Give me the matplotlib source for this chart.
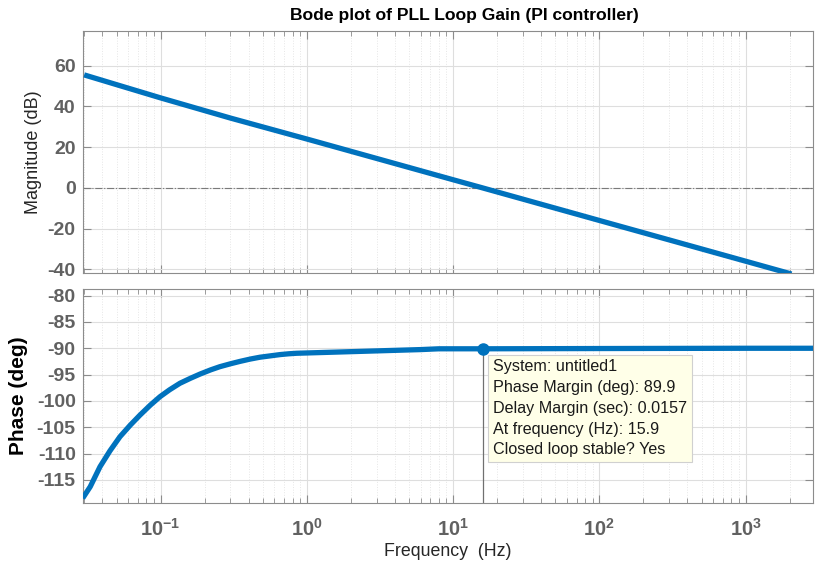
import numpy as np
import matplotlib
matplotlib.use('Agg')
import matplotlib.pyplot as plt
from matplotlib.ticker import LogLocator, NullFormatter

plt.rcParams['font.family'] = ['Liberation Sans', 'DejaVu Sans']
plt.rcParams['mathtext.fontset'] = 'custom'
plt.rcParams['mathtext.bf'] = 'Liberation Sans:bold'
plt.rcParams['mathtext.rm'] = 'Liberation Sans'

# magnitude (dB)
mag_freq = [0.03, 0.05, 0.1, 0.3, 1, 10, 15.9, 100, 1000, 2060]
mag_db = [55.5, 50.7, 44.2, 34.3, 24.0, 4.0, 0.0, -16.0, -36.0, -42.3]

# phase (deg)
ph_freq = [0.0293, 0.033, 0.0385, 0.045, 0.0527, 0.062, 0.0722, 0.085, 0.099, 0.115,
           0.1355, 0.16, 0.186, 0.22, 0.254, 0.30, 0.348, 0.41, 0.478, 0.56, 0.656,
           0.75, 0.85, 6.0, 8.0, 15.9, 100, 1000, 2890]
ph_deg = [-118.5, -116.3, -112.5, -109.5, -106.8, -104.6, -102.7, -100.8, -99.2, -97.9,
          -96.65, -95.7, -94.9, -94.1, -93.5, -92.95, -92.5, -92.05, -91.7, -91.45, -91.2,
          -91.05, -90.95, -90.25, -90.1, -90.1, -90.05, -90.0, -90.0]

pm_freq = 15.9
pm_phase = -90.1
info = ['System: untitled1', 'Phase Margin (deg): 89.9', 'Delay Margin (sec): 0.0157',
        'At frequency (Hz): 15.9', 'Closed loop stable? Yes']

xticks = [0.1, 1, 10, 100, 1000]
xticklabels = [r'$\mathbf{10^{-1}}$', r'$\mathbf{10^{0}}$', r'$\mathbf{10^{1}}$',
               r'$\mathbf{10^{2}}$', r'$\mathbf{10^{3}}$']
mag_ticks = [-40, -20, 0, 20, 40, 60]
ph_ticks = [-115, -110, -105, -100, -95, -90, -85, -80]

blue = '#0072BD'
tick_col = '#616161'
spine_col = '#8c8c8c'

fig = plt.figure(figsize=(8.17, 5.71), dpi=100)
ax1 = fig.add_axes([0.1012, 0.5219, 0.8939, 0.4243])
ax2 = fig.add_axes([0.1012, 0.1191, 0.8939, 0.3742])

for ax in (ax1, ax2):
    ax.set_xscale('log')
    ax.set_xlim(0.0293, 2890)
    ax.xaxis.set_major_locator(LogLocator(base=10, numticks=20))
    ax.xaxis.set_minor_locator(LogLocator(base=10, subs=np.arange(2, 10), numticks=20))
    ax.xaxis.set_minor_formatter(NullFormatter())
    ax.grid(True, which='major', color='#dedede', lw=0.8)
    ax.grid(True, which='minor', axis='x', color='#e6e6e6', lw=0.7, ls=':')
    ax.set_axisbelow(True)
    ax.tick_params(which='both', direction='in', top=True, right=True, color=spine_col)
    ax.tick_params(which='major', length=6, width=0.8)
    ax.tick_params(which='minor', length=3.5, width=0.6)
    ax.tick_params(axis='y', labelsize=14, labelcolor=tick_col, pad=5)
    for s in ax.spines.values():
        s.set_color(spine_col)
        s.set_linewidth(0.8)

# magnitude
ax1.axhline(0, color='#7a7a7a', lw=0.8, ls='-.', zorder=1)
ax1.plot(mag_freq, mag_db, color=blue, lw=3.8, solid_capstyle='butt', zorder=3)
ax1.set_ylim(-41.8, 77.2)
ax1.set_yticks(mag_ticks)
ax1.set_yticklabels([str(t) for t in mag_ticks], fontweight='bold')
ax1.set_xticks(xticks)
ax1.set_xticklabels([])
ax1.set_ylabel('Magnitude (dB)', fontsize=13, color='#262626', labelpad=4)

# phase
ax2.plot(ph_freq, ph_deg, color=blue, lw=3.8, solid_capstyle='butt', zorder=3)
ax2.plot([pm_freq, pm_freq], [-119.4, pm_phase], color='#707070', lw=0.9, zorder=2)
ax2.plot(pm_freq, pm_phase, 'o', color=blue, ms=8, zorder=4)
ax2.set_ylim(-119.4, -78.8)
ax2.set_yticks(ph_ticks)
ax2.set_yticklabels([str(t) for t in ph_ticks], fontweight='bold')
ax2.set_xticks(xticks)
ax2.set_xticklabels(xticklabels)
ax2.tick_params(axis='x', labelsize=14.5, labelcolor=tick_col, pad=11)
ax2.set_ylabel('Phase (deg)', fontsize=15, fontweight='bold', color='black', labelpad=6)
ax2.set_xlabel('Frequency  (Hz)', fontsize=12.8, color='#262626', labelpad=2)

ax2.text(0.5614, 0.672, '\n'.join(info), transform=ax2.transAxes, fontsize=11.6,
         va='top', ha='left', linespacing=1.48, color='#1a1a1a', zorder=5,
         bbox=dict(boxstyle='square,pad=0.3', fc='#ffffe8', ec='#d0d0d0', lw=0.8))

fig.text(0.569, 0.972, 'Bode plot of PLL Loop Gain (PI controller)', ha='center', va='center',
         fontsize=12.6, fontweight='bold')

fig.savefig('out.png', dpi=100)
